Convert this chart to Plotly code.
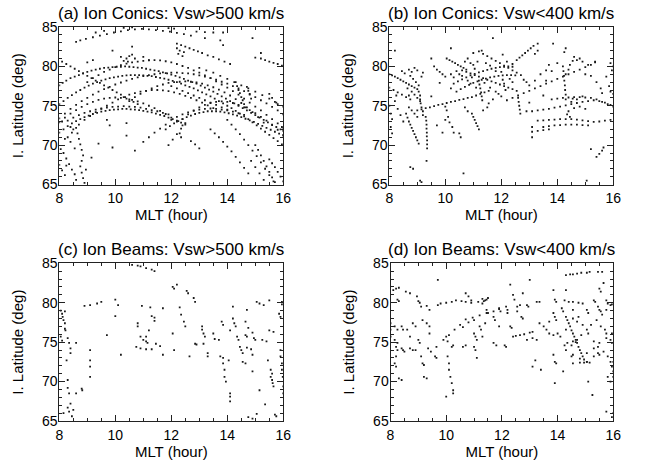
import plotly.graph_objects as go

# ---------------- data (MLT hour, invariant latitude deg) ----------------
TITLES = ["(a) Ion Conics: Vsw>500 km/s", "(b) Ion Conics: Vsw<400 km/s",
          "(c) Ion Beams: Vsw>500 km/s", "(d) Ion Beams: Vsw<400 km/s"]
X_TICKS = [8, 10, 12, 14, 16]
Y_TICKS = [65, 70, 75, 80, 85]
X_RANGE = [8, 16]
Y_RANGE = [65, 85]

CONICS_FAST = [
    (8.6,83.1),(8.75,83.3),(8.95,83.5),(9.2,83.7),(9.45,83.9),(9.7,84.1),(9.95,84.3),(10.2,84.45),(10.45,84.6),
    (10.7,84.7),(10.95,84.75),(11.2,84.7),(11.45,84.6),(11.7,84.5),(11.95,84.4),(12.2,84.25),(12.45,84.1),(12.7,83.9),
    (10.3,84.9),(10.6,84.95),(11.9,84.85),(12.1,84.8),(9.3,84.3),(9.6,84.5),(12.9,84.4),(13.2,84.35),(13.5,84.3),
    (13.85,84.3),(13.2,83.6),(13.75,83.3),(13.85,82.7),(14.9,83.6),
    (12.2,82.9),(12.35,82.7),(12.5,82.5),(12.65,82.3),(12.8,82.1),(12.95,81.9),(13.1,81.7),(13.3,81.4),(13.5,81.2),
    (13.7,80.9),(13.9,80.6),(14.1,80.3),(12.2,82.3),(12.3,82.0),(12.25,81.6),(12.45,81.8),(12.4,81.3),
    (15.0,81.1),(15.2,81.0),(15.35,80.8),(15.5,80.6),(15.65,80.45),(15.8,80.3),(15.95,80.1),(15.2,81.7),
    (8.0,77.6),(8.12,77.9),(8.25,78.2),(8.4,78.5),(8.55,78.7),(8.7,78.9),(8.85,79.1),(9.0,79.3),(9.15,79.45),
    (9.3,79.6),(9.45,79.7),(9.6,79.8),(9.75,79.85),(9.9,79.9),(10.05,79.95),(10.2,79.95),(10.35,80.0),(10.5,79.95),
    (10.65,79.9),(10.8,79.85),(10.95,79.8),(11.1,79.7),(11.25,79.6),(11.4,79.5),(11.55,79.4),(11.7,79.25),
    (11.85,79.1),(12.0,78.95),(12.15,78.8),(12.3,78.6),(12.45,78.4),(12.6,78.2),(12.75,78.0),(12.9,77.8),
    (13.05,77.55),(13.2,77.3),(13.35,77.05),(13.5,76.8),(13.65,76.5),(13.8,76.2),(13.95,75.9),(14.1,75.6),
    (14.25,75.3),(14.4,75.0),(14.55,74.7),(14.7,74.4),(14.85,74.1),(15.0,73.8),(15.15,73.5),(15.3,73.2),
    (15.45,72.9),(15.6,72.6),(15.75,72.3),(15.9,72.0),
    (8.0,75.2),(8.15,75.6),(8.3,76.0),(8.45,76.35),(8.6,76.7),(8.75,77.0),(8.9,77.3),(9.05,77.55),(9.2,77.8),
    (9.35,78.0),(9.5,78.2),(9.65,78.35),(9.8,78.5),(9.95,78.6),(10.1,78.7),(10.25,78.8),(10.4,78.85),(10.55,78.9),
    (10.7,78.9),(10.85,78.9),(11.0,78.85),(11.15,78.8),(11.3,78.75),(11.45,78.65),(11.6,78.55),(11.75,78.45),
    (11.9,78.3),(12.05,78.15),(12.2,78.0),(12.35,77.8),(12.5,77.6),(12.65,77.4),(12.8,77.2),(12.95,76.95),
    (13.1,76.7),(13.25,76.45),(13.4,76.2),(13.55,75.9),(13.7,75.6),(13.85,75.3),(14.0,75.0),(14.15,74.7),
    (14.3,74.35),(14.45,74.0),(14.6,73.65),(14.75,73.3),(14.9,72.9),(15.05,72.5),(15.2,72.1),(15.35,71.7),
    (15.5,71.3),(15.65,70.9),(15.8,70.5),(15.95,70.1),
    (8.0,71.6),(8.15,72.0),(8.3,72.4),(8.45,72.75),(8.6,73.05),(8.75,73.3),(8.9,73.55),(9.05,73.75),(9.2,73.95),
    (9.35,74.1),(9.5,74.25),(9.65,74.35),(9.8,74.45),(9.95,74.5),(10.1,74.55),(10.25,74.6),(10.4,74.6),
    (10.55,74.55),(10.7,74.5),(10.85,74.45),(11.0,74.35),(11.15,74.25),(11.3,74.15),(11.45,74.0),(11.6,73.85),
    (11.75,73.7),(11.9,73.5),(12.05,73.3),(12.2,73.1),(12.35,72.85),(12.5,72.6),
    (8.3,73.1),(8.5,73.5),(8.7,73.8),(8.9,74.1),(9.1,74.3),(9.3,74.5),(9.5,74.65),(9.7,74.75),(9.9,74.85),
    (10.1,74.9),(10.3,74.95),(10.5,74.9),(10.7,74.85),(10.9,74.75),(11.1,74.6),(11.3,74.45),(11.5,74.3),
    (11.7,74.1),(11.9,73.9),
    (11.8,72.0),(11.95,72.4),(12.1,72.75),(12.25,73.05),(12.4,73.3),(12.55,73.55),(12.7,73.75),(12.85,73.95),
    (13.0,74.1),(13.15,74.2),(13.3,74.3),(13.45,74.3),(13.6,74.3),(13.75,74.25),(13.9,74.15),(14.05,74.05),
    (14.2,73.9),(14.35,73.75),(14.5,73.55),(14.65,73.35),(14.8,73.15),(14.95,72.95),(15.1,72.7),(15.25,72.45),
    (15.4,72.2),(15.55,71.95),(15.7,71.7),(15.85,71.45),(16.0,71.2),
    (12.0,73.2),(12.2,73.6),(12.4,73.9),(12.6,74.15),(12.8,74.35),(13.0,74.5),(13.2,74.6),(13.4,74.65),
    (13.6,74.6),(13.8,74.5),(14.0,74.4),(14.2,74.25),(14.4,74.05),(14.6,73.85),
    (8.0,73.4),(8.2,74.0),(8.4,74.6),(8.6,75.1),(8.8,75.6),(9.0,76.0),(9.2,76.4),(9.4,76.8),(9.6,77.1),
    (9.8,77.4),(10.0,77.7),(10.2,77.95),(10.4,78.2),(10.6,78.4),(10.8,78.6),(11.0,78.75),(11.2,78.9),
    (11.4,79.0),(11.6,79.1),(11.8,79.15),(12.0,79.2),(12.2,79.2),(12.4,79.15),(12.6,79.1),(12.8,79.0),
    (13.0,78.85),(13.2,78.7),(13.4,78.5),(13.6,78.3),(13.8,78.05),(14.0,77.8),(14.2,77.5),(14.4,77.2),
    (14.6,76.85),(14.8,76.5),(15.0,76.1),(15.2,75.7),(15.4,75.3),(15.6,74.85),(15.8,74.4),(16.0,73.9),
    (8.5,72.0),(8.7,72.6),(8.9,73.2),(9.1,73.7),(9.3,74.2),(9.5,74.6),(9.7,75.0),(9.9,75.4),(10.1,75.8),
    (10.3,76.1),(10.5,76.4),(10.7,76.6),(10.9,76.8),(11.1,76.9),(11.3,77.0),(11.5,77.0),(11.7,76.95),
    (11.9,76.85),(12.1,76.7),(12.3,76.5),(12.5,76.25),(12.7,76.0),(12.9,75.7),(13.1,75.4),(13.3,75.05),(13.5,74.7),
    (8.1,80.6),(8.25,80.3),(8.4,80.0),(8.55,79.7),(8.7,79.4),(8.85,79.1),(9.0,78.8),(9.15,78.5),(9.3,78.2),
    (9.45,77.9),(9.6,77.6),(9.75,77.3),(9.9,77.0),(10.05,76.7),(10.2,76.4),(10.35,76.1),(10.5,75.8),
    (10.65,75.5),(10.8,75.2),
    (13.4,72.0),(13.55,71.5),(13.7,71.0),(13.85,70.4),(14.0,69.8),(14.15,69.2),(14.3,68.5),(14.45,67.8),
    (14.6,67.1),(14.75,66.4),
    (14.0,73.2),(14.15,72.6),(14.3,72.0),(14.45,71.4),(14.6,70.7),(14.75,70.0),(14.9,69.3),(15.05,68.6),
    (15.2,67.8),(15.35,67.0),(15.5,66.2),(15.65,65.4),
    (15.0,70.0),(15.1,69.4),(15.2,68.7),(15.3,68.0),(15.4,67.3),(15.5,66.6),(15.6,65.9),(15.7,65.3),
    (15.5,68.2),(15.6,67.7),(15.7,67.2),(15.8,66.6),(15.9,66.0),(16.0,65.4),
    (12.7,70.5),(12.85,70.1),(13.0,69.6),
    (8.6,72.2),(8.65,71.5),(8.7,70.8),(8.75,70.1),(8.8,69.4),(8.85,68.7),(8.8,68.0),(8.75,67.3),(8.8,66.5),
    (8.85,65.8),(8.9,65.2),
    (8.05,69.5),(8.15,69.0),(8.25,68.3),(8.35,67.6),(8.45,66.9),(8.55,66.3),(8.0,67.5),(8.1,66.8),(8.2,66.2),
    (8.3,71.0),(8.4,70.4),
    (9.4,70.2),(9.8,72.5),(9.9,69.7),(10.4,71.2),(10.4,72.8),(10.7,69.3),(9.7,73.2),
    (11.0,70.4),(11.2,71.0),(11.4,71.6),(11.6,72.1),(11.8,72.6),
    (11.9,70.0),(12.05,70.7),(12.2,71.4),(12.35,72.1),(12.5,72.8),(12.3,71.5),(12.35,71.0),
    (10.3,80.7),(10.4,81.0),(10.5,81.3),(10.6,81.5),(10.45,80.6),(10.7,81.0),(10.2,81.2),(11.0,81.2),
    (11.2,80.8),(9.2,80.8),(9.0,80.5),(10.6,82.5),(9.9,82.0),
    (12.0,77.5),(12.2,77.2),(12.4,76.9),(12.6,76.6),(12.8,76.3),(13.0,76.0),(13.2,75.7),(13.4,75.4),
    (13.6,75.1),(13.8,74.8),(14.0,74.5),
    (14.3,78.0),(14.35,77.5),(14.4,77.0),(14.45,76.6),(14.5,76.1),(14.55,75.7),(14.6,75.2),(14.65,74.8),
    (14.7,77.4),(14.75,76.9),(14.8,76.4),(14.85,75.9),
    (15.5,76.5),(15.6,76.0),(15.7,75.5),(15.8,75.2),(15.95,72.3),(16.0,71.8),
    (13.0,79.8),(13.25,79.5),(13.5,79.2),(13.75,78.8),(14.0,78.4),(14.25,78.0),(14.5,77.6),(14.75,77.2),
    (15.0,76.8),(15.25,76.35),(15.5,75.9),(15.75,75.4),(16.0,74.9),
    (9.0,78.0),(9.2,78.5),(9.4,78.9),(9.6,79.3),(9.8,79.6),(10.0,79.9),(10.2,80.15),(10.4,80.35),(10.6,80.5),
    (10.8,80.6),(11.0,80.7),(11.2,80.75),(11.4,80.8),(11.6,80.75),(11.8,80.65),(12.0,80.5),(12.2,80.3),
    (12.4,80.05),(12.6,79.8),(12.8,79.5),(13.0,79.2),(13.2,78.85),(13.4,78.5),(13.6,78.1),(13.8,77.7),
    (14.0,77.3),(14.2,76.85),(14.4,76.4),(14.6,75.9),(14.8,75.4),(15.0,74.9),(15.2,74.4),(15.4,73.85),
    (15.6,73.3),(15.8,72.75),(16.0,72.2),
    (8.0,72.9),(8.2,73.5),(8.4,74.0),(8.6,74.45),(8.8,74.85),(9.0,75.2),(9.2,75.5),(9.4,75.75),(9.6,75.9),
    (9.8,76.0),(10.0,76.05),(10.2,76.0),(10.4,75.9),(10.6,75.75),(10.8,75.55),(11.0,75.3),(11.2,75.0),
    (11.4,74.7),(11.6,74.35),(11.8,73.95),(12.0,73.5),(12.2,73.0),(12.4,72.5),
    (12.4,73.3),(12.6,73.9),(12.8,74.4),(13.0,74.8),(13.2,75.1),(13.4,75.35),(13.6,75.5),(13.8,75.55),
    (14.0,75.5),(14.2,75.35),(14.4,75.1),(14.6,74.8),(14.8,74.45),(15.0,74.05),(15.2,73.6),(15.4,73.1),
    (15.6,72.55),(15.8,71.95),(16.0,71.3),
    (10.5,75.6),(10.7,76.1),(10.9,76.5),(11.1,76.9),(11.3,77.2),(11.5,77.5),(11.7,77.7),(11.9,77.9),
    (12.1,78.0),(12.3,78.05),(12.5,78.1),(12.7,78.05),(12.9,77.95),(13.1,77.8),(13.3,77.6),(13.5,77.35),
    (13.7,77.05),(13.9,76.7),(14.1,76.3),(14.3,75.85),(14.5,75.35),(14.7,74.8),(14.9,74.2),(15.1,73.55),(15.3,72.85),
    (8.2,70.8),(8.45,71.6),(8.55,69.6),(8.25,67.4),(8.6,65.6),(8.95,66.9),(9.15,68.4),(8.4,72.3),(8.1,73.0),
    (14.85,68.0),(15.0,67.2),(15.15,66.4),(15.3,65.6),
]

CONICS_SLOW = [
    (8.0,79.0),(8.1,78.85),(8.2,78.7),(8.3,78.5),(8.4,78.3),(8.5,78.1),(8.6,77.9),(8.7,77.7),(8.8,77.5),
    (8.9,77.3),(9.0,77.1),
    (8.0,77.3),(8.15,77.0),(8.3,76.7),(8.45,76.4),(8.6,76.1),(8.75,75.8),
    (8.7,79.6),(8.8,79.3),(8.9,79.8),(9.0,79.5),(8.75,78.8),(8.85,78.4),(8.95,78.0),(9.05,77.6),(8.65,77.2),
    (8.8,76.8),(8.9,76.4),(9.0,76.0),(9.1,75.6),(8.7,76.3),(9.15,78.7),(9.2,79.2),(8.55,79.1),(8.45,79.4),
    (9.3,73.6),(9.32,73.1),(9.33,72.6),(9.33,72.1),(9.34,71.6),(9.34,71.1),(9.35,70.6),(9.35,70.1),(9.35,69.6),
    (9.05,76.8),(9.1,76.3),(9.1,75.8),(9.12,75.3),(9.15,74.8),(9.2,74.3),(9.2,73.8),
    (8.6,74.0),(8.65,73.5),(8.7,73.0),(8.75,72.6),(8.8,72.2),(8.85,71.8),(8.9,71.4),(8.95,71.0),(9.0,70.6),
    (9.05,70.2),(8.7,74.8),(8.8,74.4),(8.9,74.0),(9.0,73.6),
    (8.75,67.2),(8.85,67.0),(9.1,65.5),(9.15,65.3),(9.33,68.0),
    (8.0,75.0),(8.05,74.0),(8.1,73.3),(8.05,72.3),(8.1,71.5),(8.2,75.6),(8.3,74.6),(8.4,73.8),(8.5,73.0),(8.25,76.3),
    (9.0,74.4),(9.15,74.55),(9.3,74.7),(9.45,74.8),(9.6,74.95),(9.75,75.1),(9.9,75.2),(10.05,75.35),(10.2,75.5),
    (10.35,75.6),(10.5,75.75),(10.65,75.85),(10.8,76.0),(10.95,76.1),(11.1,76.3),(11.25,76.5),(11.4,76.7),(11.55,76.9),
    (9.6,80.0),(9.7,79.6),(9.8,79.3),(9.9,79.0),(10.0,78.7),
    (10.05,81.0),(10.15,80.8),(10.25,80.6),(10.35,80.4),(10.45,80.2),(10.55,80.0),(10.65,79.8),(10.75,79.6),
    (10.2,82.3),(10.8,81.0),(11.7,83.6),(8.2,82.0),(9.5,81.0),(10.65,66.4),(11.3,82.0),(11.0,81.7),(12.05,81.5),
    (10.3,77.8),(10.45,78.1),(10.6,78.35),(10.75,78.6),(10.9,78.85),(11.05,79.05),(11.2,79.25),(11.35,79.4),
    (11.5,79.55),(11.65,79.7),(11.8,79.8),(11.95,79.9),(12.1,79.95),(12.25,80.0),(12.4,79.95),
    (10.4,76.8),(10.55,77.1),(10.7,77.4),(10.85,77.65),(11.0,77.9),(11.15,78.1),(11.3,78.3),(11.45,78.45),
    (11.6,78.6),(11.75,78.7),(11.9,78.8),(12.05,78.85),(12.2,78.9),(12.35,78.9),(12.5,78.85),
    (10.6,79.5),(10.75,79.3),(10.9,79.1),(11.05,78.9),(11.2,78.7),(11.35,78.5),(11.5,78.3),(11.65,78.1),
    (11.8,77.9),(11.95,77.7),(12.1,77.5),(12.25,77.3),(12.4,77.1),(12.55,76.9),
    (11.2,81.9),(11.35,81.6),(11.5,81.3),(11.65,81.0),(11.8,80.7),(11.95,80.4),(12.1,80.1),(12.25,79.8),
    (12.4,79.5),(12.55,79.2),(12.7,78.9),
    (11.2,78.2),(11.22,77.7),(11.25,77.2),(11.28,76.7),(11.3,76.2),(11.32,75.7),(11.0,80.2),(11.05,79.7),(10.95,78.6),
    (12.0,79.3),(12.05,78.3),(12.1,77.8),(12.15,77.0),(11.9,76.5),(11.7,75.8),
    (10.95,74.0),(11.0,73.6),(11.05,73.2),(11.1,72.8),(11.15,72.4),(11.2,72.0),
    (10.05,74.4),(10.1,73.6),(10.15,72.9),(10.25,72.3),(10.3,71.6),(10.5,71.5),(10.55,71.0),(10.0,73.2),
    (12.55,80.8),(12.65,81.1),(12.75,81.4),(12.85,81.7),(12.95,82.0),(13.05,82.3),(13.15,82.6),(13.3,82.9),
    (13.3,82.0),(13.2,81.6),(13.85,82.9),(14.3,82.3),(14.25,81.8),
    (12.2,75.7),(12.4,76.0),(12.6,76.3),(12.8,76.6),(13.0,76.9),(13.2,77.2),(13.4,77.5),(13.6,77.8),(13.8,78.1),
    (14.0,78.4),(14.2,78.7),(14.4,79.0),(14.6,79.3),(14.8,79.6),(15.0,79.9),(15.2,80.2),(15.35,80.5),
    (12.6,76.0),(12.62,75.5),(12.64,75.0),(12.66,74.5),(12.68,74.0),
    (14.2,80.0),(14.22,79.4),(14.24,78.8),(14.25,78.2),(14.27,77.6),(14.28,77.0),(14.3,76.4),(14.3,75.8),
    (14.3,79.0),(14.4,79.6),(14.45,80.2),(14.55,80.7),(14.6,81.2),
    (13.1,74.3),(13.3,74.4),(13.5,74.5),(13.7,74.6),(13.9,74.75),(14.1,74.9),(14.3,75.05),(14.5,75.2),
    (14.7,75.35),(14.9,75.5),(15.1,75.6),(15.3,75.7),(15.5,75.6),(15.7,75.4),(15.9,75.1),
    (13.3,73.1),(13.5,73.15),(13.7,73.2),(13.9,73.25),(14.1,73.3),(14.3,73.3),(14.5,73.3),(14.7,73.25),
    (14.9,73.15),(15.1,73.05),(15.3,72.95),(15.5,73.0),(15.7,73.1),(15.9,73.2),
    (13.5,72.3),(13.7,72.4),(13.9,72.5),(14.1,72.55),(14.3,72.6),(14.5,72.6),(14.7,72.6),(14.9,72.55),(15.1,72.5),
    (13.1,71.7),(13.3,71.8),(13.5,71.9),(13.7,72.0),
    (13.8,75.8),(14.0,75.9),(14.2,76.0),(14.4,76.05),(14.6,76.1),(14.8,76.1),(15.0,76.05),(15.2,76.0),
    (15.4,75.8),(15.6,75.5),(15.8,75.2),(16.0,74.9),
    (14.5,75.5),(14.55,75.9),(14.6,74.7),(14.7,75.8),(14.8,74.9),(14.9,76.2),(15.0,74.6),(14.4,74.3),
    (14.35,73.9),(14.45,73.6),
    (15.75,78.7),(15.9,80.4),(16.0,80.0),(15.95,79.5),(15.85,77.5),(15.9,76.8),(16.0,76.5),(15.35,80.6),
    (15.1,80.2),(15.0,79.0),
    (15.4,68.5),(15.5,68.9),(15.6,69.3),(15.65,69.7),(15.2,69.5),(15.05,65.5),
    (13.1,72.3),(13.1,71.0),(13.6,78.2),(13.8,79.4),(14.0,80.4),(13.5,76.3),(13.0,75.4),(12.9,74.3),
    (9.7,72.5),(9.9,71.6),(10.0,74.9),(9.5,76.2),(9.8,77.9),(10.2,77.2),
    (10.5,79.0),(10.6,78.8),(10.8,78.2),(10.9,77.8),(11.1,77.3),(11.4,77.9),(11.6,77.3),(11.8,76.8),
    (12.0,76.2),(12.3,78.4),(12.4,78.0),(11.45,80.4),(11.6,80.1),(11.8,79.4),(10.7,80.6),(10.9,80.4),
    (11.15,80.6),(12.2,80.6),(12.4,80.3),(10.4,79.4),(10.2,79.0),(10.3,78.6),(11.55,75.3),(11.5,74.8),
    (11.35,74.4),(10.7,74.8),(10.8,74.3),(12.8,78.3),(12.9,78.0),(13.0,77.6),(13.2,78.2),(13.4,79.0),
    (13.6,79.5),(13.7,80.2),(14.7,80.8),(14.8,81.0),(14.9,80.6),(15.2,78.8),(15.4,78.0),(15.55,77.2),(15.6,76.6),
]

BEAMS_FAST = [
    (8.05,79.0),(8.1,78.6),(8.12,78.2),(8.15,77.8),(8.2,77.4),(8.2,78.9),(8.2,76.7),(8.22,76.5),
    (8.26,72.7),(8.3,70.2),(8.3,69.2),(8.35,68.5),(8.4,67.2),(8.5,66.4),(8.3,66.7),(8.35,66.2),(8.45,65.6),(8.15,66.0),
    (8.3,75.5),(8.35,74.9),(8.4,74.2),(8.4,73.6),(8.6,74.9),(8.6,68.5),(8.8,69.1),(8.82,68.9),
    (9.1,74.0),(9.1,72.7),(9.1,71.9),(9.1,70.6),
    (8.9,79.6),(9.1,79.7),(9.35,79.9),(9.5,80.1),(9.7,75.9),
    (10.0,80.4),(10.0,78.3),(10.1,79.7),(10.2,73.4),
    (10.6,84.8),(10.8,84.7),(10.9,84.6),(11.1,84.4),(11.3,84.2),(11.4,84.0),
    (10.8,77.4),(10.8,77.0),(10.9,75.7),(11.0,75.3),(11.1,75.1),(10.75,74.4),(10.9,74.2),(11.1,74.1),(11.3,74.1),
    (10.95,79.6),(11.1,75.7),(11.15,74.9),(11.25,79.4),(11.3,78.3),(11.4,78.1),(11.4,77.7),(11.45,74.8),
    (11.6,74.5),(11.7,73.4),(11.2,76.5),(11.7,79.3),
    (12.05,82.0),(12.1,81.8),(12.2,82.3),(12.05,76.1),(12.1,74.0),(12.3,79.4),(12.35,78.5),(12.45,77.6),
    (12.5,77.0),(12.55,81.5),(12.6,81.2),(12.65,73.2),(12.8,80.6),(12.85,80.1),(12.85,74.8),(12.9,74.7),
    (13.1,77.0),(13.1,76.6),(13.15,76.1),(13.2,75.7),(13.15,74.8),(13.3,73.6),(13.3,73.2),
    (13.5,76.1),(13.55,75.4),(13.7,75.3),(13.8,77.6),(13.85,77.2),(13.75,73.2),(13.85,73.0),
    (13.85,72.3),(13.9,71.5),(13.9,70.6),(13.95,70.0),(14.05,72.7),(14.1,76.5),
    (14.1,68.5),(14.1,68.1),(14.1,67.5),(14.2,79.5),(14.2,78.0),(14.25,77.4),(14.3,77.0),
    (14.35,75.7),(14.4,75.3),(14.45,74.4),(14.5,74.0),(14.55,73.6),(14.55,72.5),(14.65,72.3),
    (14.65,75.9),(14.7,75.7),(14.65,77.6),(14.7,79.1),(14.75,76.8),(14.9,76.2),(14.95,75.5),
    (14.7,74.3),(14.85,74.1),(14.9,73.4),(15.05,80.1),(15.15,79.9),(15.3,79.7),(14.9,71.3),(15.0,75.3),
    (14.75,65.5),(15.15,68.9),(15.25,75.3),(15.4,75.1),(15.45,72.7),(15.5,80.3),(15.5,76.5),(15.65,76.3),
    (15.55,71.5),(15.55,70.6),(15.6,70.2),(15.65,69.4),(15.75,65.6),
    (15.9,74.0),(15.9,73.2),(15.95,72.3),(15.85,78.6),(15.9,78.2),(15.95,80.1),(15.95,79.8),
    (15.95,71.5),(15.98,70.6),(16.0,69.4),(16.0,68.5),(15.35,67.1),(15.7,65.8),(15.05,65.9),(14.9,65.3),
    (8.05,75.7),(8.1,75.2),(15.6,71.0),(15.62,69.8),
]

BEAMS_SLOW = [
    (8.1,81.6),(8.2,81.8),(8.3,81.9),(8.25,80.4),(8.3,80.2),(8.0,77.4),(8.15,77.0),(8.25,76.6),
    (8.15,75.3),(8.25,74.9),(8.15,72.3),(8.2,71.9),(8.2,73.2),(8.3,70.4),(8.4,70.2),(8.4,77.0),(8.45,76.6),
    (8.4,74.2),(8.45,74.0),(8.5,73.8),(8.55,81.4),(8.7,81.2),(8.6,76.6),(8.7,75.7),(8.7,74.2),(8.8,74.0),
    (8.9,74.0),(8.8,77.4),(8.9,77.0),(8.95,80.8),(9.0,80.2),(9.05,80.0),(9.1,79.5),(9.0,75.3),(9.05,74.9),
    (9.1,73.2),(9.15,72.3),(9.2,72.1),(9.2,70.6),(9.3,70.4),(9.15,77.8),(9.3,77.4),(9.4,77.0),(9.4,76.1),
    (9.35,74.2),(9.45,73.8),(9.3,79.6),(9.4,79.1),(9.6,73.2),(9.65,73.0),(9.7,82.9),
    (9.7,79.7),(9.8,79.9),(10.0,80.0),(10.2,80.1),(10.35,80.3),(10.55,80.2),(10.7,80.1),(10.9,80.0),
    (10.9,80.3),(11.15,80.1),(11.3,79.9),(11.4,80.3),(11.5,80.6),(11.3,80.5),(11.35,80.2),(11.45,80.4),
    (9.65,74.4),(9.9,75.3),(10.1,75.9),(10.3,76.6),(10.5,77.2),(10.7,77.9),(10.95,78.1),(11.2,78.4),
    (11.45,78.7),(11.7,78.9),(11.9,79.2),(10.6,76.9),(10.8,77.5),(11.0,77.8),
    (10.05,73.2),(10.1,72.3),(10.1,71.5),(10.15,70.6),(10.2,69.8),(10.25,68.9),(10.25,68.5),(10.0,68.1),
    (10.0,75.7),(10.05,75.1),(10.2,74.4),(10.25,74.6),(10.7,81.2),(10.8,80.8),
    (11.0,74.4),(11.05,74.0),(11.0,76.1),(11.05,75.7),(11.1,75.3),(11.1,73.0),(10.6,74.4),(10.7,74.6),
    (11.2,77.0),(11.25,76.6),(11.3,75.7),(11.4,77.4),(11.45,79.1),(11.5,78.7),(11.7,78.2),(11.75,77.8),
    (11.9,79.3),(11.95,78.9),(11.7,74.9),(11.8,74.6),(11.9,77.0),
    (12.15,79.5),(12.2,79.1),(12.2,78.7),(12.3,82.3),(12.4,81.0),(12.45,80.4),(12.3,77.0),(12.35,76.8),
    (12.1,74.6),(12.15,74.4),(12.4,75.7),(12.5,75.8),(12.65,75.9),(12.8,76.0),(13.0,76.2),(13.1,76.3),
    (12.55,79.5),(12.65,79.7),(13.0,82.9),(12.75,81.2),(12.9,79.7),(12.95,79.5),(13.25,80.1),(13.35,80.1),
    (13.35,77.4),(13.5,77.0),(13.1,71.9),(13.4,71.5),(13.2,72.7),(13.6,76.6),(13.7,76.1),(13.85,75.9),
    (13.85,81.6),(13.9,80.4),(13.95,80.1),(13.85,78.7),(13.9,78.2),(13.95,77.8),(13.9,72.5),(13.95,72.3),
    (13.9,69.8),(14.0,76.1),(14.1,75.7),(14.15,79.3),(14.2,78.9),
    (14.3,83.5),(14.45,83.6),(14.55,83.6),(14.7,83.7),(14.85,83.8),(15.05,83.8),(15.15,83.9),(15.45,83.9),(15.6,83.9),
    (14.3,81.6),(14.25,80.3),(14.4,80.1),(14.55,80.1),(14.75,80.0),(14.9,79.9),
    (14.3,78.2),(14.35,77.8),(14.4,77.4),(14.45,77.0),(14.5,76.5),(14.55,76.1),(14.6,75.7),(14.65,75.3),
    (14.7,74.9),(14.75,74.4),(14.8,74.0),(14.85,73.6),(14.9,73.2),(14.95,72.8),(15.05,72.5),
    (14.3,74.0),(14.5,74.6),(14.7,75.3),(14.85,75.9),(15.05,76.6),(15.2,77.2),(15.4,77.8),(15.6,78.5),
    (15.75,79.1),(15.95,79.8),
    (14.55,72.3),(14.8,72.9),(15.05,73.6),(15.3,74.2),(15.5,74.9),(15.75,75.5),(15.95,76.1),
    (14.55,79.1),(14.75,78.2),(14.9,77.2),(15.1,76.1),(15.3,75.1),(15.45,74.4),(15.65,73.8),(15.8,73.2),(16.0,72.5),
    (14.8,72.4),(14.95,72.4),(15.05,72.5),(15.15,72.4),(14.5,73.2),(14.55,73.4),(14.25,74.6),(14.35,74.9),
    (14.3,76.6),(14.55,75.1),(14.65,75.0),(15.05,79.1),(15.1,78.7),(15.3,80.3),(15.35,80.1),
    (15.45,79.5),(15.5,79.1),(15.55,78.9),(15.5,81.8),(15.55,81.4),(15.65,82.5),(15.75,80.3),(15.8,79.9),
    (15.9,79.7),(15.7,76.6),(15.75,76.1),(15.9,75.3),(15.95,74.9),(15.9,72.5),(15.95,71.9),(16.0,71.3),
    (16.0,70.6),(15.8,70.6),(15.9,70.0),(15.95,65.5),(16.0,66.0),(15.75,66.2),(15.1,70.0),(15.25,68.3),
    (15.45,73.6),(15.5,73.4),(15.3,73.2),(15.55,77.0),(14.55,78.0),(14.7,77.6),(14.2,71.3),(13.85,73.4),
    (12.9,75.3),(13.1,75.5),(13.25,75.3),(13.7,77.6),(12.55,78.9),(12.7,78.2),(12.75,78.0),
    (8.0,76.6),(8.0,75.7),(8.2,74.4),(8.25,74.0),
]

PANELS = [CONICS_FAST, CONICS_SLOW, BEAMS_FAST, BEAMS_SLOW]

# ---------------- layout geometry (page pixels) ----------------
W, H = 646, 464
boxes = [  # left, right, top, bottom
    (59.3, 283.3, 27.0, 184.5),
    (389.3, 613.3, 27.0, 184.5),
    (59.3, 283.3, 263.3, 421.0),
    (390.5, 613.3, 263.3, 421.0),
]

FONT = "Liberation Sans, Arial, Helvetica, sans-serif"
fig = go.Figure()
annotations = []
for i, (pts, box) in enumerate(zip(PANELS, boxes)):
    n = "" if i == 0 else str(i + 1)
    l, r, t, b = box
    xs = [p[0] for p in pts]
    ys = [p[1] for p in pts]
    fig.add_trace(go.Scatter(
        x=xs, y=ys, mode="markers", xaxis="x" + n, yaxis="y" + n,
        marker=dict(symbol="square", size=1.8, color="#1a1a1a", line=dict(width=0)),
        showlegend=False, hoverinfo="skip", cliponaxis=True))
    axis_common = dict(showline=True, linecolor="#222", linewidth=1, mirror="allticks",
                       ticks="inside", tickcolor="#222", showgrid=False, zeroline=False,
                       automargin=False,
                       tickfont=dict(family=FONT, size=14, color="#000"))
    fig.layout["xaxis" + n] = dict(
        axis_common, domain=[l / W, r / W], anchor="y" + n, range=X_RANGE,
        tickvals=X_TICKS, ticklen=6, ticklabelstandoff=1,
        minor=dict(dtick=0.5, ticklen=3, ticks="inside", tickcolor="#222", showgrid=False),
        title=dict(text="MLT (hour)", font=dict(family=FONT, size=15, color="#000"), standoff=0))
    fig.layout["yaxis" + n] = dict(
        axis_common, domain=[1 - b / H, 1 - t / H], anchor="x" + n, range=Y_RANGE,
        tickvals=Y_TICKS, ticklen=6, ticklabelstandoff=-2,
        minor=dict(dtick=1, ticklen=3, ticks="inside", tickcolor="#222", showgrid=False),
        title=dict(text="I. Latitude (deg)", font=dict(family=FONT, size=15, color="#000"), standoff=14))
    annotations.append(dict(
        text=TITLES[i], xref="paper", yref="paper", x=(l + r) / 2 / W, y=1 - (t - 14) / H,
        xanchor="center", yanchor="middle", showarrow=False,
        font=dict(family=FONT, size=17, color="#000")))

fig.update_layout(width=W, height=H, margin=dict(l=0, r=0, t=0, b=0, pad=0),
                  paper_bgcolor="white", plot_bgcolor="white", annotations=annotations)
# remove the browser's default 8px body margin so the figure sits at the page origin
fig.write_html("out.html", config={"displayModeBar": False},
               post_script="document.body.style.margin='0';")
